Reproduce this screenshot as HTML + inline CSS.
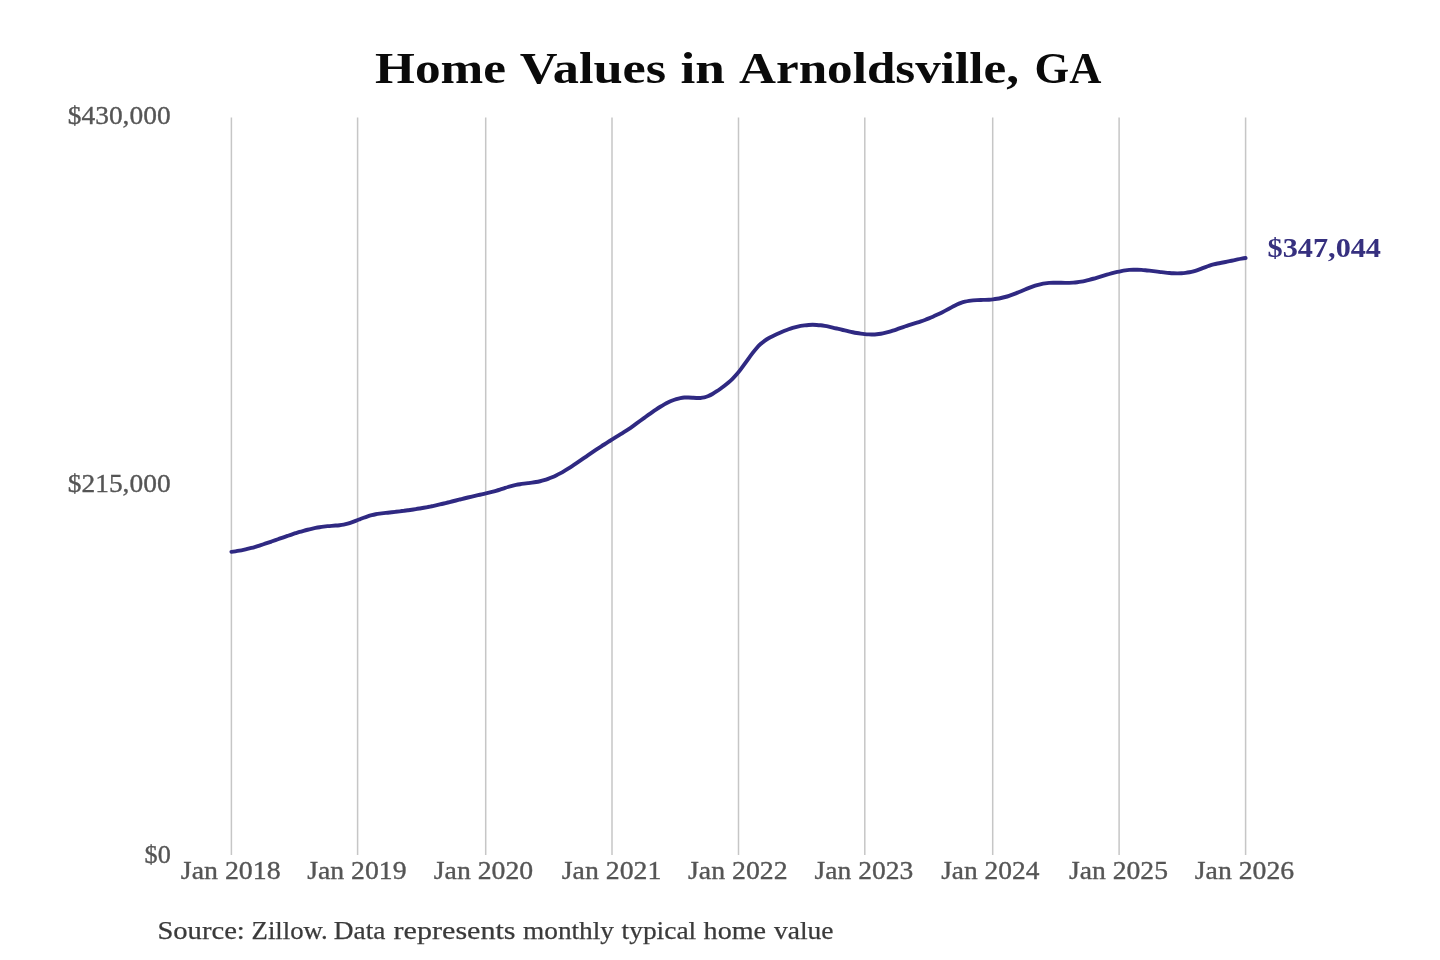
<!DOCTYPE html>
<html><head><meta charset="utf-8"><style>
html,body{margin:0;padding:0;background:#fff;overflow:hidden;}
svg{display:block;will-change:transform;}
text{font-family:"Liberation Serif", serif;}
</style></head><body>
<svg width="1440" height="960" viewBox="0 0 1440 960">
<rect width="1440" height="960" fill="#fff"/>
<g stroke="#c6c6c6" stroke-width="1.5">
<line x1="231.4" y1="117.5" x2="231.4" y2="855"/>
<line x1="357.6" y1="117.5" x2="357.6" y2="855"/>
<line x1="485.7" y1="117.5" x2="485.7" y2="855"/>
<line x1="612.0" y1="117.5" x2="612.0" y2="855"/>
<line x1="738.5" y1="117.5" x2="738.5" y2="855"/>
<line x1="864.8" y1="117.5" x2="864.8" y2="855"/>
<line x1="992.7" y1="117.5" x2="992.7" y2="855"/>
<line x1="1119.1" y1="117.5" x2="1119.1" y2="855"/>
<line x1="1245.6" y1="117.5" x2="1245.6" y2="855"/>
</g>
<path d="M231.40,551.89 C232.74,551.74 234.07,551.57 235.41,551.37 C236.74,551.17 238.08,550.95 239.42,550.70 C240.75,550.45 242.09,550.18 243.43,549.89 C244.76,549.59 246.10,549.28 247.43,548.95 C248.77,548.62 250.11,548.27 251.44,547.90 C252.78,547.54 254.12,547.15 255.45,546.76 C256.79,546.36 258.12,545.95 259.46,545.53 C260.80,545.11 262.13,544.68 263.47,544.24 C264.81,543.80 266.14,543.35 267.48,542.90 C268.81,542.44 270.15,541.98 271.49,541.52 C272.82,541.05 274.16,540.58 275.50,540.11 C276.83,539.64 278.17,539.17 279.50,538.69 C280.84,538.22 282.18,537.75 283.51,537.29 C284.85,536.82 286.19,536.35 287.52,535.90 C288.86,535.44 290.19,534.98 291.53,534.54 C292.87,534.09 294.20,533.66 295.54,533.23 C296.88,532.81 298.21,532.39 299.55,531.99 C300.88,531.58 302.22,531.20 303.56,530.82 C304.89,530.45 306.23,530.09 307.57,529.75 C308.90,529.40 310.24,529.08 311.57,528.78 C312.91,528.47 314.25,528.19 315.58,527.93 C316.92,527.67 318.26,527.43 319.59,527.21 C320.93,526.99 322.26,526.79 323.60,526.62 C324.94,526.44 326.27,526.29 327.61,526.16 C328.94,526.02 330.28,525.92 331.62,525.83 C332.95,525.74 334.29,525.66 335.63,525.56 C336.96,525.47 338.30,525.36 339.63,525.21 C340.97,525.06 342.31,524.87 343.64,524.61 C344.98,524.35 346.32,524.02 347.65,523.64 C348.99,523.26 350.32,522.83 351.66,522.37 C353.00,521.90 354.33,521.41 355.67,520.89 C357.01,520.38 358.34,519.85 359.68,519.32 C361.01,518.80 362.35,518.27 363.69,517.77 C365.02,517.27 366.36,516.79 367.70,516.35 C369.03,515.90 370.37,515.50 371.70,515.16 C373.04,514.81 374.38,514.52 375.71,514.28 C377.05,514.03 378.39,513.83 379.72,513.64 C381.06,513.46 382.39,513.30 383.73,513.15 C385.07,513.00 386.40,512.86 387.74,512.71 C389.08,512.56 390.41,512.41 391.75,512.26 C393.08,512.11 394.42,511.95 395.76,511.80 C397.09,511.64 398.43,511.48 399.77,511.32 C401.10,511.16 402.44,510.99 403.77,510.82 C405.11,510.65 406.45,510.47 407.78,510.29 C409.12,510.11 410.46,509.92 411.79,509.72 C413.13,509.53 414.46,509.33 415.80,509.12 C417.14,508.92 418.47,508.70 419.81,508.48 C421.14,508.26 422.48,508.02 423.82,507.78 C425.15,507.54 426.49,507.29 427.83,507.04 C429.16,506.78 430.50,506.51 431.83,506.23 C433.17,505.95 434.51,505.66 435.84,505.36 C437.18,505.06 438.52,504.76 439.85,504.45 C441.19,504.13 442.52,503.82 443.86,503.49 C445.20,503.17 446.53,502.84 447.87,502.51 C449.21,502.18 450.54,501.85 451.88,501.51 C453.21,501.17 454.55,500.84 455.89,500.50 C457.22,500.16 458.56,499.82 459.90,499.49 C461.23,499.15 462.57,498.82 463.90,498.49 C465.24,498.16 466.58,497.83 467.91,497.51 C469.25,497.18 470.59,496.86 471.92,496.55 C473.26,496.24 474.59,495.94 475.93,495.63 C477.27,495.33 478.60,495.03 479.94,494.73 C481.28,494.43 482.61,494.12 483.95,493.81 C485.28,493.50 486.62,493.19 487.96,492.86 C489.29,492.54 490.63,492.20 491.97,491.86 C493.30,491.51 494.64,491.15 495.97,490.77 C497.31,490.39 498.65,489.99 499.98,489.58 C501.32,489.16 502.66,488.72 503.99,488.29 C505.33,487.86 506.66,487.42 508.00,487.01 C509.34,486.60 510.67,486.21 512.01,485.85 C513.34,485.50 514.68,485.19 516.02,484.92 C517.35,484.65 518.69,484.42 520.03,484.21 C521.36,484.00 522.70,483.82 524.03,483.64 C525.37,483.47 526.71,483.31 528.04,483.14 C529.38,482.98 530.72,482.81 532.05,482.63 C533.39,482.44 534.72,482.25 536.06,482.02 C537.40,481.80 538.73,481.54 540.07,481.25 C541.41,480.95 542.74,480.62 544.08,480.23 C545.41,479.84 546.75,479.39 548.09,478.90 C549.42,478.41 550.76,477.87 552.10,477.29 C553.43,476.71 554.77,476.09 556.10,475.43 C557.44,474.77 558.78,474.07 560.11,473.34 C561.45,472.61 562.79,471.85 564.12,471.06 C565.46,470.27 566.79,469.46 568.13,468.62 C569.47,467.78 570.80,466.92 572.14,466.05 C573.48,465.18 574.81,464.29 576.15,463.39 C577.48,462.49 578.82,461.58 580.16,460.66 C581.49,459.74 582.83,458.82 584.17,457.90 C585.50,456.98 586.84,456.06 588.17,455.14 C589.51,454.22 590.85,453.31 592.18,452.41 C593.52,451.51 594.86,450.61 596.19,449.72 C597.53,448.84 598.86,447.96 600.20,447.08 C601.54,446.21 602.87,445.34 604.21,444.49 C605.54,443.63 606.88,442.77 608.22,441.93 C609.55,441.08 610.89,440.24 612.23,439.41 C613.56,438.58 614.90,437.75 616.23,436.92 C617.57,436.10 618.91,435.27 620.24,434.43 C621.58,433.60 622.92,432.75 624.25,431.90 C625.59,431.04 626.92,430.17 628.26,429.27 C629.60,428.38 630.93,427.47 632.27,426.53 C633.61,425.60 634.94,424.64 636.28,423.68 C637.61,422.71 638.95,421.73 640.29,420.75 C641.62,419.77 642.96,418.79 644.30,417.81 C645.63,416.83 646.97,415.85 648.30,414.89 C649.64,413.92 650.98,412.97 652.31,412.04 C653.65,411.11 654.99,410.20 656.32,409.32 C657.66,408.43 658.99,407.58 660.33,406.76 C661.67,405.94 663.00,405.16 664.34,404.41 C665.68,403.67 667.01,402.98 668.35,402.33 C669.68,401.69 671.02,401.09 672.36,400.56 C673.69,400.03 675.03,399.55 676.37,399.14 C677.70,398.74 679.04,398.39 680.37,398.13 C681.71,397.86 683.05,397.67 684.38,397.56 C685.72,397.46 687.06,397.44 688.39,397.48 C689.73,397.52 691.06,397.61 692.40,397.71 C693.74,397.80 695.07,397.90 696.41,397.96 C697.74,398.02 699.08,398.04 700.42,397.96 C701.75,397.89 703.09,397.73 704.43,397.43 C705.76,397.13 707.10,396.67 708.43,396.08 C709.77,395.49 711.11,394.77 712.44,393.99 C713.78,393.20 715.12,392.37 716.45,391.49 C717.79,390.61 719.12,389.68 720.46,388.71 C721.80,387.74 723.13,386.73 724.47,385.67 C725.81,384.62 727.14,383.52 728.48,382.39 C729.81,381.25 731.15,380.07 732.49,378.78 C733.82,377.50 735.16,376.10 736.50,374.56 C737.83,373.02 739.17,371.35 740.50,369.60 C741.84,367.84 743.18,366.01 744.51,364.15 C745.85,362.30 747.19,360.41 748.52,358.56 C749.86,356.70 751.19,354.87 752.53,353.12 C753.87,351.37 755.20,349.71 756.54,348.18 C757.88,346.64 759.21,345.25 760.55,344.03 C761.88,342.81 763.22,341.74 764.56,340.79 C765.89,339.84 767.23,339.00 768.57,338.24 C769.90,337.47 771.24,336.78 772.57,336.13 C773.91,335.48 775.25,334.85 776.58,334.24 C777.92,333.63 779.26,333.03 780.59,332.45 C781.93,331.88 783.26,331.32 784.60,330.79 C785.94,330.26 787.27,329.75 788.61,329.28 C789.94,328.80 791.28,328.36 792.62,327.95 C793.95,327.54 795.29,327.16 796.63,326.82 C797.96,326.49 799.30,326.19 800.63,325.94 C801.97,325.69 803.31,325.48 804.64,325.31 C805.98,325.15 807.32,325.02 808.65,324.94 C809.99,324.86 811.32,324.82 812.66,324.82 C814.00,324.82 815.33,324.87 816.67,324.95 C818.01,325.03 819.34,325.15 820.68,325.31 C822.01,325.47 823.35,325.67 824.69,325.90 C826.02,326.13 827.36,326.39 828.70,326.67 C830.03,326.95 831.37,327.25 832.70,327.56 C834.04,327.86 835.38,328.18 836.71,328.50 C838.05,328.82 839.39,329.15 840.72,329.47 C842.06,329.80 843.39,330.12 844.73,330.44 C846.07,330.76 847.40,331.07 848.74,331.38 C850.08,331.68 851.41,331.97 852.75,332.24 C854.08,332.51 855.42,332.77 856.76,333.01 C858.09,333.24 859.43,333.45 860.77,333.64 C862.10,333.83 863.44,333.99 864.77,334.11 C866.11,334.24 867.45,334.33 868.78,334.39 C870.12,334.45 871.46,334.46 872.79,334.44 C874.13,334.42 875.46,334.35 876.80,334.23 C878.14,334.12 879.47,333.95 880.81,333.74 C882.14,333.52 883.48,333.25 884.82,332.94 C886.15,332.63 887.49,332.28 888.83,331.90 C890.16,331.52 891.50,331.10 892.83,330.67 C894.17,330.24 895.51,329.79 896.84,329.32 C898.18,328.86 899.52,328.39 900.85,327.92 C902.19,327.45 903.52,326.98 904.86,326.52 C906.20,326.06 907.53,325.62 908.87,325.19 C910.21,324.76 911.54,324.35 912.88,323.94 C914.21,323.54 915.55,323.13 916.89,322.71 C918.22,322.30 919.56,321.87 920.90,321.42 C922.23,320.97 923.57,320.49 924.90,319.99 C926.24,319.49 927.58,318.96 928.91,318.41 C930.25,317.86 931.59,317.29 932.92,316.70 C934.26,316.11 935.59,315.49 936.93,314.86 C938.27,314.23 939.60,313.58 940.94,312.92 C942.28,312.25 943.61,311.57 944.95,310.88 C946.28,310.18 947.62,309.47 948.96,308.75 C950.29,308.03 951.63,307.30 952.97,306.58 C954.30,305.87 955.64,305.18 956.97,304.55 C958.31,303.91 959.65,303.35 960.98,302.87 C962.32,302.39 963.66,301.99 964.99,301.67 C966.33,301.34 967.66,301.08 969.00,300.87 C970.34,300.66 971.67,300.51 973.01,300.39 C974.34,300.27 975.68,300.18 977.02,300.12 C978.35,300.06 979.69,300.01 981.03,299.97 C982.36,299.94 983.70,299.90 985.03,299.86 C986.37,299.82 987.71,299.76 989.04,299.68 C990.38,299.60 991.72,299.49 993.05,299.34 C994.39,299.19 995.72,299.00 997.06,298.78 C998.40,298.55 999.73,298.29 1001.07,297.99 C1002.41,297.69 1003.74,297.36 1005.08,297.00 C1006.41,296.63 1007.75,296.23 1009.09,295.79 C1010.42,295.36 1011.76,294.89 1013.10,294.40 C1014.43,293.90 1015.77,293.38 1017.10,292.84 C1018.44,292.31 1019.78,291.75 1021.11,291.20 C1022.45,290.64 1023.79,290.08 1025.12,289.53 C1026.46,288.97 1027.79,288.43 1029.13,287.91 C1030.47,287.38 1031.80,286.88 1033.14,286.40 C1034.48,285.93 1035.81,285.49 1037.15,285.09 C1038.48,284.70 1039.82,284.34 1041.16,284.04 C1042.49,283.75 1043.83,283.51 1045.17,283.32 C1046.50,283.14 1047.84,283.01 1049.17,282.92 C1050.51,282.82 1051.85,282.77 1053.18,282.75 C1054.52,282.72 1055.86,282.72 1057.19,282.74 C1058.53,282.75 1059.86,282.78 1061.20,282.80 C1062.54,282.83 1063.87,282.86 1065.21,282.87 C1066.54,282.88 1067.88,282.88 1069.22,282.85 C1070.55,282.83 1071.89,282.77 1073.23,282.67 C1074.56,282.58 1075.90,282.44 1077.23,282.27 C1078.57,282.09 1079.91,281.88 1081.24,281.63 C1082.58,281.39 1083.92,281.11 1085.25,280.81 C1086.59,280.51 1087.92,280.18 1089.26,279.84 C1090.60,279.49 1091.93,279.13 1093.27,278.75 C1094.61,278.38 1095.94,277.99 1097.28,277.59 C1098.61,277.19 1099.95,276.79 1101.29,276.38 C1102.62,275.98 1103.96,275.58 1105.30,275.18 C1106.63,274.78 1107.97,274.38 1109.30,274.00 C1110.64,273.62 1111.98,273.25 1113.31,272.90 C1114.65,272.54 1115.99,272.21 1117.32,271.90 C1118.66,271.59 1119.99,271.30 1121.33,271.04 C1122.67,270.79 1124.00,270.56 1125.34,270.37 C1126.68,270.18 1128.01,270.03 1129.35,269.91 C1130.68,269.80 1132.02,269.73 1133.36,269.70 C1134.69,269.67 1136.03,269.67 1137.37,269.70 C1138.70,269.73 1140.04,269.80 1141.37,269.88 C1142.71,269.97 1144.05,270.08 1145.38,270.20 C1146.72,270.33 1148.06,270.48 1149.39,270.63 C1150.73,270.79 1152.06,270.95 1153.40,271.12 C1154.74,271.29 1156.07,271.47 1157.41,271.64 C1158.74,271.81 1160.08,271.99 1161.42,272.15 C1162.75,272.31 1164.09,272.47 1165.43,272.61 C1166.76,272.75 1168.10,272.88 1169.43,272.99 C1170.77,273.09 1172.11,273.18 1173.44,273.24 C1174.78,273.30 1176.12,273.33 1177.45,273.33 C1178.79,273.32 1180.12,273.29 1181.46,273.22 C1182.80,273.14 1184.13,273.03 1185.47,272.87 C1186.81,272.71 1188.14,272.50 1189.48,272.24 C1190.81,271.99 1192.15,271.68 1193.49,271.31 C1194.82,270.94 1196.16,270.51 1197.50,270.06 C1198.83,269.60 1200.17,269.11 1201.50,268.60 C1202.84,268.10 1204.18,267.59 1205.51,267.08 C1206.85,266.58 1208.19,266.09 1209.52,265.64 C1210.86,265.18 1212.19,264.76 1213.53,264.40 C1214.87,264.04 1216.20,263.74 1217.54,263.47 C1218.88,263.20 1220.21,262.97 1221.55,262.74 C1222.88,262.50 1224.22,262.26 1225.56,262.00 C1226.89,261.74 1228.23,261.45 1229.57,261.16 C1230.90,260.87 1232.24,260.57 1233.57,260.28 C1234.91,259.98 1236.25,259.69 1237.58,259.41 C1238.92,259.13 1240.26,258.87 1241.59,258.63 C1242.93,258.39 1244.26,258.18 1245.60,258.00" fill="none" stroke="#2f2982" stroke-width="3.9" stroke-linecap="round" stroke-linejoin="round"/>
<text transform="translate(0,0.00)" x="375.00" y="82.70" font-size="44" font-weight="bold" fill="#0a0a0a" textLength="131.00" lengthAdjust="spacingAndGlyphs">Home</text>
<text transform="translate(0,0.00)" x="519.80" y="82.70" font-size="44" font-weight="bold" fill="#0a0a0a" textLength="146.40" lengthAdjust="spacingAndGlyphs">Values</text>
<text transform="translate(0,0.00)" x="680.40" y="82.70" font-size="44" font-weight="bold" fill="#0a0a0a" textLength="44.40" lengthAdjust="spacingAndGlyphs">in</text>
<text transform="translate(0,0.00)" x="739.00" y="82.70" font-size="44" font-weight="bold" fill="#0a0a0a" textLength="280.00" lengthAdjust="spacingAndGlyphs">Arnoldsville,</text>
<text transform="translate(0,0.00)" x="1034.60" y="82.70" font-size="44" font-weight="bold" fill="#0a0a0a" textLength="66.80" lengthAdjust="spacingAndGlyphs">GA</text>
<text transform="translate(0,0.00)" x="67.80" y="124.40" font-size="25.8" font-weight="normal" fill="#555" stroke="#555" stroke-width="0.35" textLength="102.80" lengthAdjust="spacingAndGlyphs">$430,000</text>
<text transform="translate(0,0.00)" x="67.80" y="492.40" font-size="25.8" font-weight="normal" fill="#555" stroke="#555" stroke-width="0.35" textLength="102.80" lengthAdjust="spacingAndGlyphs">$215,000</text>
<text transform="translate(0,0.00)" x="144.60" y="863.40" font-size="25.8" font-weight="normal" fill="#555" stroke="#555" stroke-width="0.35" textLength="26.20" lengthAdjust="spacingAndGlyphs">$0</text>
<text transform="translate(0,0.00)" x="1267.60" y="257.10" font-size="26.5" font-weight="bold" fill="#36307f" textLength="113.40" lengthAdjust="spacingAndGlyphs">$347,044</text>
<text transform="translate(0,0.00)" x="180.80" y="879.40" font-size="25.8" font-weight="normal" fill="#555" stroke="#555" stroke-width="0.35" textLength="99.80" lengthAdjust="spacingAndGlyphs">Jan 2018</text>
<text transform="translate(0,0.00)" x="307.20" y="879.40" font-size="25.8" font-weight="normal" fill="#555" stroke="#555" stroke-width="0.35" textLength="99.40" lengthAdjust="spacingAndGlyphs">Jan 2019</text>
<text transform="translate(0,0.00)" x="433.80" y="879.40" font-size="25.8" font-weight="normal" fill="#555" stroke="#555" stroke-width="0.35" textLength="99.40" lengthAdjust="spacingAndGlyphs">Jan 2020</text>
<text transform="translate(0,0.00)" x="561.80" y="879.40" font-size="25.8" font-weight="normal" fill="#555" stroke="#555" stroke-width="0.35" textLength="99.60" lengthAdjust="spacingAndGlyphs">Jan 2021</text>
<text transform="translate(0,0.00)" x="688.00" y="879.40" font-size="25.8" font-weight="normal" fill="#555" stroke="#555" stroke-width="0.35" textLength="99.60" lengthAdjust="spacingAndGlyphs">Jan 2022</text>
<text transform="translate(0,0.00)" x="814.60" y="879.40" font-size="25.8" font-weight="normal" fill="#555" stroke="#555" stroke-width="0.35" textLength="98.60" lengthAdjust="spacingAndGlyphs">Jan 2023</text>
<text transform="translate(0,0.00)" x="941.20" y="879.40" font-size="25.8" font-weight="normal" fill="#555" stroke="#555" stroke-width="0.35" textLength="98.20" lengthAdjust="spacingAndGlyphs">Jan 2024</text>
<text transform="translate(0,0.00)" x="1069.00" y="879.40" font-size="25.8" font-weight="normal" fill="#555" stroke="#555" stroke-width="0.35" textLength="99.00" lengthAdjust="spacingAndGlyphs">Jan 2025</text>
<text transform="translate(0,0.00)" x="1194.80" y="879.40" font-size="25.8" font-weight="normal" fill="#555" stroke="#555" stroke-width="0.35" textLength="99.40" lengthAdjust="spacingAndGlyphs">Jan 2026</text>
<text transform="translate(0,0.00)" x="157.40" y="938.80" font-size="25.5" font-weight="normal" fill="#3a3a3a" stroke="#3a3a3a" stroke-width="0.25" textLength="87.40" lengthAdjust="spacingAndGlyphs">Source:</text>
<text transform="translate(0,0.00)" x="251.60" y="938.80" font-size="25.5" font-weight="normal" fill="#3a3a3a" stroke="#3a3a3a" stroke-width="0.25" textLength="76.20" lengthAdjust="spacingAndGlyphs">Zillow.</text>
<text transform="translate(0,0.00)" x="333.80" y="938.80" font-size="25.5" font-weight="normal" fill="#3a3a3a" stroke="#3a3a3a" stroke-width="0.25" textLength="51.60" lengthAdjust="spacingAndGlyphs">Data</text>
<text transform="translate(0,0.00)" x="393.60" y="938.80" font-size="25.5" font-weight="normal" fill="#3a3a3a" stroke="#3a3a3a" stroke-width="0.25" textLength="122.00" lengthAdjust="spacingAndGlyphs">represents</text>
<text transform="translate(0,0.00)" x="523.00" y="938.80" font-size="25.5" font-weight="normal" fill="#3a3a3a" stroke="#3a3a3a" stroke-width="0.25" textLength="91.00" lengthAdjust="spacingAndGlyphs">monthly</text>
<text transform="translate(0,0.00)" x="621.60" y="938.80" font-size="25.5" font-weight="normal" fill="#3a3a3a" stroke="#3a3a3a" stroke-width="0.25" textLength="74.60" lengthAdjust="spacingAndGlyphs">typical</text>
<text transform="translate(0,0.00)" x="703.60" y="938.80" font-size="25.5" font-weight="normal" fill="#3a3a3a" stroke="#3a3a3a" stroke-width="0.25" textLength="62.40" lengthAdjust="spacingAndGlyphs">home</text>
<text transform="translate(0,0.00)" x="774.00" y="938.80" font-size="25.5" font-weight="normal" fill="#3a3a3a" stroke="#3a3a3a" stroke-width="0.25" textLength="59.60" lengthAdjust="spacingAndGlyphs">value</text>
</svg>
</body></html>
